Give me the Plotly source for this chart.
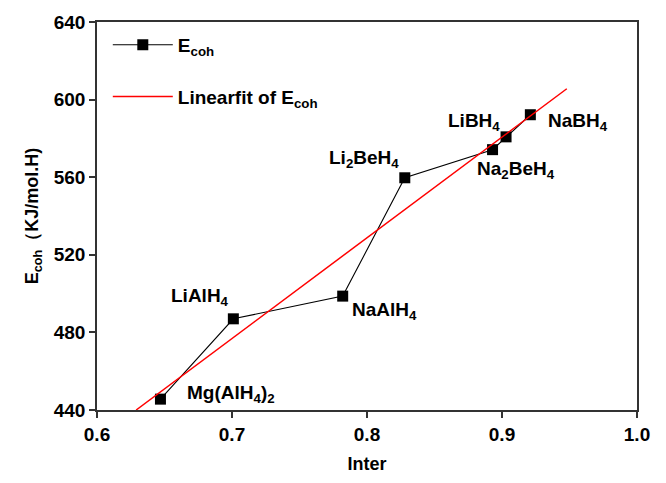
import plotly.graph_objects as go

# Data
inter = [0.647, 0.701, 0.782, 0.828, 0.893, 0.903, 0.921]
ecoh = [445.6, 487.0, 498.7, 559.7, 574.2, 580.8, 592.2]
names = ["Mg(AlH<sub>4</sub>)<sub>2</sub>", "LiAlH<sub>4</sub>", "NaAlH<sub>4</sub>",
         "Li<sub>2</sub>BeH<sub>4</sub>", "Na<sub>2</sub>BeH<sub>4</sub>",
         "LiBH<sub>4</sub>", "NaBH<sub>4</sub>"]
label_x = [0.699, 0.676, 0.813, 0.798, 0.910, 0.879, 0.956]
label_y = [448.0, 498.5, 491.0, 569.5, 563.7, 588.6, 588.6]
fit_x = [0.629, 0.948]
fit_y = [440.0, 605.6]
xticks = [0.6, 0.7, 0.8, 0.9, 1.0]
yticks = [440, 480, 520, 560, 600, 640]

FONT = "Liberation Sans, Arial, sans-serif"
FS = 19

fig = go.Figure()
fig.add_trace(go.Scatter(
    x=inter, y=ecoh, mode="lines+markers", name="<b>E<sub>coh</sub></b>",
    line=dict(color="black", width=1.1),
    marker=dict(symbol="square", size=11, color="black"),
    legendgroup="a", cliponaxis=False))
fig.add_trace(go.Scatter(
    x=fit_x, y=fit_y, mode="lines", name="<b>Linearfit of E<sub>coh</sub></b>",
    line=dict(color="#ff0000", width=1.5), legendgroup="b"))

for nx, ny, t in zip(label_x, label_y, names):
    fig.add_annotation(x=nx, y=ny, xref="x", yref="y", text="<b>%s</b>" % t,
                       showarrow=False, font=dict(family=FONT, size=FS, color="black"))

axis_common = dict(showgrid=False, zeroline=False, showline=True, linecolor="#333333",
                   linewidth=1.5, mirror=True, ticks="outside", ticklen=6,
                   tickwidth=1.5, tickcolor="#333333",
                   tickfont=dict(family=FONT, size=FS, color="black"))

fig.update_layout(
    width=666, height=483,
    margin=dict(l=97, r=29, t=17, b=65),
    paper_bgcolor="white", plot_bgcolor="white",
    font=dict(family=FONT, size=FS, color="black"),
    xaxis=dict(range=[0.6, 1.0], tickvals=xticks, ticktext=["<b>%.1f</b>" % v for v in xticks],
               title=dict(text="<b>Inter</b>", font=dict(family=FONT, size=18), standoff=14),
               **axis_common),
    yaxis=dict(range=[440, 640], tickvals=yticks, ticktext=["<b>%d</b>" % v for v in yticks],
               title=dict(text="<b>E<sub>coh</sub>（KJ/mol.H)</b>", font=dict(family=FONT, size=18), standoff=10),
               **axis_common),
    legend=dict(x=0.02, y=0.99, xanchor="left", yanchor="top", bgcolor="rgba(0,0,0,0)",
                font=dict(family=FONT, size=FS, color="black"), tracegroupgap=24,
                itemwidth=60),
    showlegend=True,
)

fig.write_html("out.html")
